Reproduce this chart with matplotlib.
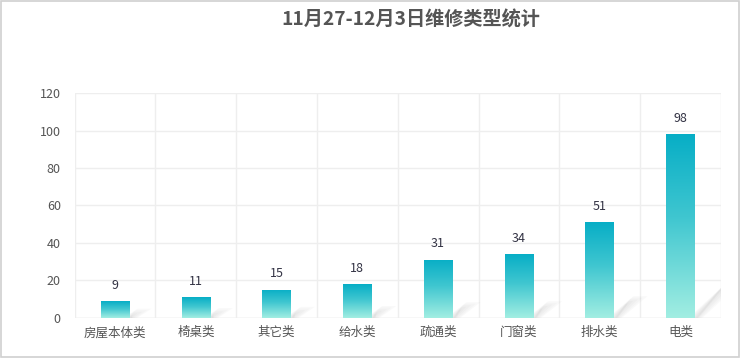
import numpy as np
import matplotlib
matplotlib.use("Agg")
import matplotlib.pyplot as plt
from matplotlib.colors import LinearSegmentedColormap
from matplotlib.patches import Rectangle, Polygon

plt.rcParams['font.family'] = ['Noto Sans CJK SC', 'DejaVu Sans']

categories = ["房屋本体类", "椅桌类", "其它类", "给水类", "疏通类", "门窗类", "排水类", "电类"]
counts = [9, 11, 15, 18, 31, 34, 51, 98]
title = "11月27-12月3日维修类型统计"

fig = plt.figure(figsize=(7.4, 3.58), dpi=100)
ax = fig.add_axes([0.101, 0.112, 0.873, 0.628])

cmap = LinearSegmentedColormap.from_list("bar", [(0.0, "#a2eee2"), (0.55, "#3fc6d0"), (1.0, "#07aec6")])
grad = np.linspace(0, 1, 256).reshape(-1, 1)

x = np.arange(len(categories))
width = 0.35
px_x = 1 / 80.8   # data units per pixel, x
px_y = 120 / 225  # data units per pixel, y

bars = ax.bar(x, counts, width=width, color="none", edgecolor="none", zorder=3)
for b, v in zip(bars, counts):
    x0 = b.get_x()
    xr = x0 + width
    # soft diagonal shadow to the right of the bar
    dx = 6 + 0.27 * v
    dy = dx * 1.1
    for k in range(6):
        shrink = k * 1.6
        w = max(14 - 2 * shrink, 2)
        pts = [[xr - 6 * px_x + shrink * px_x, 0],
               [xr + (w - 6 + shrink) * px_x, 0],
               [xr + (dx - shrink) * px_x + w * px_x, (dy - shrink) * px_y],
               [xr + (dx - shrink) * px_x, (dy - shrink) * px_y]]
        ax.add_patch(Polygon(pts, closed=True, facecolor="#8a8a8a", edgecolor="none",
                             alpha=0.045, zorder=2))
    im = ax.imshow(grad, extent=[x0, xr, 0, v], origin="lower", cmap=cmap,
                   aspect="auto", zorder=3)
    im.set_clip_path(b)
    ax.text(b.get_x() + width / 2, v + 5, str(v), ha="center", va="bottom",
            fontsize=9, color="#333344", zorder=4)

ax.set_xlim(-0.5, len(categories) - 0.5)
ax.set_ylim(0, 120)
ax.set_yticks(np.arange(0, 121, 20))
ax.set_xticks(x)
ax.set_xticklabels(categories)
ax.set_xticks(np.arange(-0.5, len(categories), 1), minor=True)
ax.tick_params(axis="both", which="both", length=0, labelsize=9, colors="#555555")
ax.tick_params(axis="x", pad=6)
ax.tick_params(axis="y", pad=10)
ax.grid(True, axis="y", color="#eeeeee", linewidth=1, zorder=0)
ax.grid(True, axis="x", which="minor", color="#eeeeee", linewidth=1, zorder=0)
ax.grid(False, axis="x", which="major")
for s in ax.spines.values():
    s.set_visible(False)
ax.axhline(0, color="#e6e6e6", linewidth=1, zorder=1)

fig.text(0.555, 0.945, title, ha="center", va="center", fontsize=13.8,
         fontweight="bold", color="#555555")

fig.patches.append(Rectangle((0.001, 0.002), 0.997, 0.995, transform=fig.transFigure,
                             fill=False, edgecolor="#d0d0d0", linewidth=1.2))

fig.savefig("out.png", dpi=100)
